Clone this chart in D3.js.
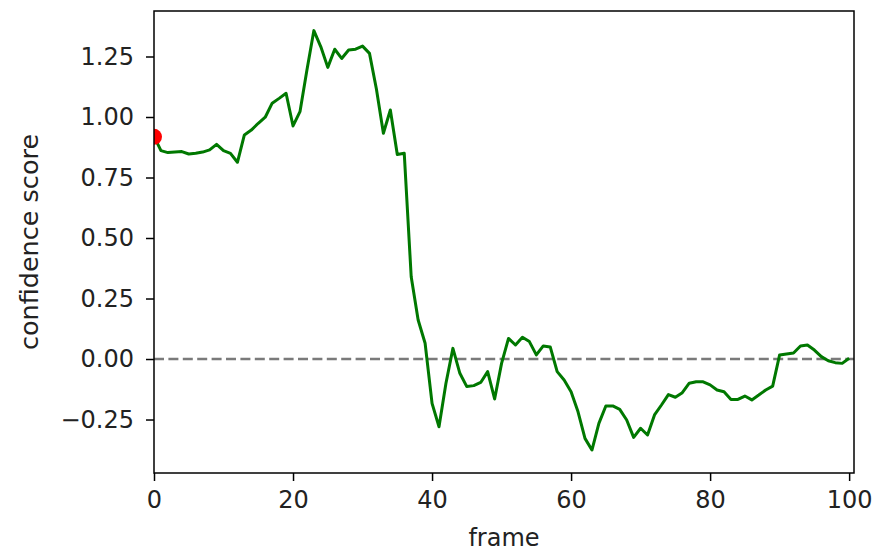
<!DOCTYPE html>
<html>
<head>
<meta charset="utf-8">
<script src="https://cdn.jsdelivr.net/npm/d3@7"></script>
<style>
  body { margin: 0; background: #fff; }
  svg { display: block; font-family: "DejaVu Sans", sans-serif; }
</style>
</head>
<body>
<svg id="chart" width="875" height="551"></svg>
<script>
// confidence score per frame (frame = index)
var SCORES = [
    0.92, 0.861, 0.853, 0.855, 0.857, 0.847, 0.85, 0.855, 0.864, 0.887,
    0.861, 0.85, 0.813, 0.926, 0.946, 0.974, 0.999, 1.057, 1.077, 1.098,
    0.963, 1.022, 1.194, 1.357, 1.29, 1.205, 1.28, 1.242, 1.277, 1.28,
    1.293, 1.263, 1.115, 0.933, 1.029, 0.845, 0.85, 0.34, 0.161, 0.065,
    -0.183, -0.28, -0.1, 0.044, -0.059, -0.114, -0.11, -0.097, -0.052, -0.165,
    -0.018, 0.085, 0.058, 0.09, 0.072, 0.017, 0.054, 0.05, -0.052, -0.087,
    -0.135, -0.218, -0.328, -0.376, -0.266, -0.194, -0.194, -0.208, -0.252, -0.324,
    -0.286, -0.314, -0.231, -0.19, -0.147, -0.158, -0.139, -0.1, -0.094, -0.094,
    -0.107, -0.128, -0.135, -0.167, -0.167, -0.153, -0.169, -0.149, -0.128, -0.112,
    0.017, 0.021, 0.025, 0.054, 0.058, 0.037, 0.01, -0.007, -0.015, -0.018,
    0.003
];
var MARKER = { frame: 0, score: 0.918 };
var BASELINE = 0;

var X_TICKS = [0, 20, 40, 60, 80, 100];
var Y_TICKS = [-0.25, 0, 0.25, 0.5, 0.75, 1.0, 1.25];
var X_DOMAIN = [0, 100.7];
var Y_DOMAIN = [-0.471, 1.438];

var margin = { top: 11, right: 21, bottom: 78, left: 154 };
var svg = d3.select("#chart");
var width = +svg.attr("width") - margin.left - margin.right;
var height = +svg.attr("height") - margin.top - margin.bottom;

var chart = svg.append("g")
    .attr("transform", "translate(" + margin.left + "," + margin.top + ")");

var xScale = d3.scaleLinear().domain(X_DOMAIN).range([0, width]);
var yScale = d3.scaleLinear().domain(Y_DOMAIN).range([height, 0]);

chart.append("clipPath").attr("id", "plot-clip")
    .append("rect").attr("width", width).attr("height", height);

var plot = chart.append("g").attr("clip-path", "url(#plot-clip)");

// zero reference
plot.append("line")
    .attr("x1", xScale(X_DOMAIN[0])).attr("x2", xScale(X_DOMAIN[1]))
    .attr("y1", yScale(BASELINE)).attr("y2", yScale(BASELINE))
    .attr("stroke", "#7a7a7a")
    .attr("stroke-width", 2.4)
    .attr("stroke-dasharray", "10,4.4");

var line = d3.line()
    .x(function (d, i) { return xScale(i); })
    .y(function (d) { return yScale(d); });

plot.append("path")
    .datum(SCORES)
    .attr("fill", "none")
    .attr("stroke", "#007800")
    .attr("stroke-width", 3)
    .attr("stroke-linejoin", "round")
    .attr("d", line);

plot.append("circle")
    .attr("cx", xScale(MARKER.frame))
    .attr("cy", yScale(MARKER.score))
    .attr("r", 8)
    .attr("fill", "#ff0000");

// axes
var xAxis = d3.axisBottom(xScale).tickValues(X_TICKS)
    .tickSize(8).tickSizeOuter(0).tickPadding(10)
    .tickFormat(d3.format("d"));
var yAxis = d3.axisLeft(yScale).tickValues(Y_TICKS)
    .tickSize(8).tickSizeOuter(0).tickPadding(12)
    .tickFormat(d3.format(".2f"));

var gx = chart.append("g").attr("transform", "translate(0," + height + ")").call(xAxis);
var gy = chart.append("g").call(yAxis);

[gx, gy].forEach(function (g) {
    g.select(".domain").remove();
    g.selectAll(".tick line").attr("stroke", "#000").attr("stroke-width", 1.5);
    g.selectAll(".tick text")
        .attr("fill", "#222")
        .style("font-size", "24px")
        .style("font-family", "DejaVu Sans");
});

chart.append("rect")
    .attr("width", width).attr("height", height)
    .attr("fill", "none")
    .attr("stroke", "#000")
    .attr("stroke-width", 1.5);

svg.append("text")
    .attr("x", margin.left + width / 2)
    .attr("y", 546)
    .attr("text-anchor", "middle")
    .attr("fill", "#222")
    .style("font-size", "24px")
    .text("frame");

svg.append("text")
    .attr("transform", "translate(38," + (margin.top + height / 2) + ") rotate(-90)")
    .attr("text-anchor", "middle")
    .attr("fill", "#222")
    .style("font-size", "25.5px")
    .text("confidence score");
</script>
</body>
</html>
